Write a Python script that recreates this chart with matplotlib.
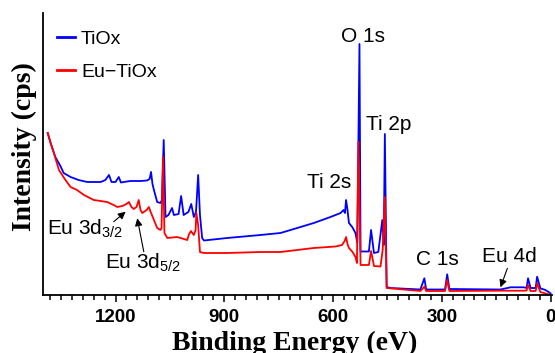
import matplotlib
matplotlib.use("Agg")
import matplotlib.pyplot as plt
from matplotlib.ticker import MultipleLocator

plt.rcParams['mathtext.fontset'] = 'custom'
plt.rcParams['mathtext.rm'] = 'Liberation Sans'
plt.rcParams['mathtext.it'] = 'Liberation Sans:italic'
plt.rcParams['mathtext.bf'] = 'Liberation Sans:bold'
plt.rcParams['mathtext.default'] = 'rm'

# Binding energy (eV) and intensity (arbitrary units, kcps)
energy_tiox = [1387, 1379, 1366, 1352, 1343, 1324, 1302, 1278, 1255, 1241, 1228, 1218, 1211,
               1200, 1191, 1185, 1177, 1159, 1131, 1113, 1106, 1102, 1098, 1094, 1085, 1076,
               1072, 1067, 1062, 1054, 1044, 1039, 1026, 1019, 1012, 999, 991, 984, 978, 972,
               967, 961, 956, 892, 800, 745, 717, 653, 607, 579, 571, 567, 564, 560, 556, 547,
               538, 533, 527, 524, 501, 495, 487, 475, 464, 460, 457, 452, 441, 359, 348, 343,
               291, 285, 279, 138, 110, 74, 66, 62, 55, 41, 37, 28, 14, 0]
intensity_tiox = [16.2, 15.2, 13.8, 12.9, 12.2, 11.8, 11.5, 11.3, 11.3, 11.3, 11.5, 12.0, 11.3,
                  11.3, 11.8, 11.25, 11.3, 11.4, 11.4, 11.45, 11.6, 12.3, 11.1, 10.5, 9.3, 9.2,
                  9.5, 15.5, 7.8, 8.0, 8.7, 8.0, 8.1, 9.9, 8.0, 8.3, 9.1, 7.8, 8.3, 12.0,
                  8.0, 5.7, 5.45, 5.7, 6.0, 6.2, 6.5, 7.2, 7.8, 8.2, 8.5, 8.2, 9.5, 8.5, 7.2, 6.8,
                  6.2, 5.2, 25.1, 4.35, 4.35, 6.5, 4.2, 4.3, 7.5, 5.0, 16.1, 0.8, 0.7, 0.55, 1.67, 0.55,
                  0.55, 2.07, 0.6, 0.55, 0.77, 0.77, 0.7, 1.67, 0.7, 0.7, 1.83, 0.67, 0.5, 0.17]

energy_eutiox = [1387, 1379, 1370, 1356, 1338, 1324, 1306, 1287, 1260, 1241, 1223, 1205, 1195,
                 1181, 1170, 1163, 1156, 1150, 1142, 1136, 1131, 1126, 1114, 1108, 1103, 1094,
                 1085, 1076, 1073, 1069, 1065, 1057, 1030, 1002, 998, 992, 984, 979, 977, 972,
                 967, 956, 892, 800, 745, 653, 593, 575, 568, 564, 560, 556, 546, 538, 534, 530,
                 524, 501, 495, 487, 469, 463, 457, 452, 359, 348, 343, 291, 285, 279, 138, 75,
                 66, 62, 55, 41, 37, 28, 0]
intensity_eutiox = [16.2, 15.2, 14.2, 12.5, 11.5, 10.8, 10.5, 10.0, 9.5, 9.4, 9.3, 9.0, 8.8,
                    8.9, 9.1, 9.3, 8.8, 8.6, 8.8, 9.5, 8.5, 8.2, 8.5, 8.8, 8.3, 7.5,
                    6.7, 6.5, 6.7, 13.8, 6.2, 5.7, 5.8, 5.5, 6.0, 6.4, 6.0, 6.5, 8.2, 7.0,
                    4.3, 4.2, 4.2, 4.3, 4.3, 4.7, 4.85, 5.0, 5.4, 5.8, 5.1, 4.7, 4.3, 3.8, 3.2, 15.3,
                    3.0, 3.0, 4.4, 2.9, 2.85, 4.5, 9.8, 0.7, 0.4, 0.83, 0.4, 0.4, 1.5, 0.4, 0.43, 0.43,
                    0.45, 1.0, 0.4, 0.4, 1.17, 0.3, 0.0]

series_labels = ['TiOx', 'Eu\u2212TiOx']
series_colors = ['#0000ff', '#ff0000']
x_ticks = [1200, 900, 600, 300, 0]

fig = plt.figure(figsize=(5.55, 3.53), dpi=100)
ax = fig.add_axes([43 / 555, 58 / 353, 508.6 / 555, 282 / 353])

ax.plot(energy_tiox, intensity_tiox, color=series_colors[0], lw=1.3, label=series_labels[0])
ax.plot(energy_eutiox, intensity_eutiox, color=series_colors[1], lw=1.3, label=series_labels[1])

ax.set_xlim(1400, -3)
ax.set_ylim(0, 28.2)
ax.set_yticks([])
ax.set_xticks(x_ticks)
ax.set_xticklabels([str(t) for t in x_ticks])
ax.xaxis.set_minor_locator(MultipleLocator(30))
for s in ['top', 'right']:
    ax.spines[s].set_visible(False)
for s in ['left', 'bottom']:
    ax.spines[s].set_linewidth(1.3)
ax.tick_params(axis='x', which='major', direction='out', length=5, width=1.1, pad=5)
ax.tick_params(axis='x', which='minor', direction='out', length=3.5, width=1.1)
for lab in ax.get_xticklabels():
    lab.set_fontfamily('Liberation Sans')
    lab.set_fontweight('bold')
    lab.set_fontsize(13.5)

ax.set_xlabel('Binding Energy (eV)', fontfamily='Liberation Serif', fontweight='bold', fontsize=20)
ax.set_ylabel('Intensity (cps)', fontfamily='Liberation Serif', fontweight='bold', fontsize=20)
ax.xaxis.set_label_coords(0.4955, -0.128)
ax.yaxis.set_label_coords(-0.012, 0.528)

leg = ax.legend(loc='upper left', bbox_to_anchor=(0.027, 0.94), frameon=False,
                prop={'family': 'Liberation Sans', 'size': 14}, handlelength=0.95,
                handletextpad=0.3, labelspacing=0.82, borderpad=0, borderaxespad=0)
for line in leg.get_lines():
    line.set_linewidth(2)

tkw = dict(fontfamily='Liberation Sans', fontsize=15, color='k')
ax.text(517, 25.33, 'O 1s', ha='center', va='baseline', **tkw)
ax.text(510, 16.5, 'Ti 2p', ha='left', va='baseline', **tkw)
ax.text(672, 10.67, 'Ti 2s', ha='left', va='baseline', **tkw)
ax.text(372, 3.0, 'C 1s', ha='left', va='baseline', **tkw)
ax.text(188, 3.33, 'Eu 4d', ha='left', va='baseline', **tkw)
ax.text(1388, 6.0, 'Eu 3d$_{3/2}$', ha='left', va='baseline', **tkw)
ax.text(1228, 2.67, 'Eu 3d$_{5/2}$', ha='left', va='baseline', **tkw)

apr = dict(arrowstyle='-|>', color='k', lw=0.8, mutation_scale=11, shrinkA=0, shrinkB=0)
ax.annotate('', xy=(1172, 8.33), xytext=(1205, 7.33), arrowprops=apr)
ax.annotate('', xy=(1140, 7.67), xytext=(1122, 4.33), arrowprops=apr)
ax.annotate('', xy=(138, 0.77), xytext=(119, 2.67), arrowprops=apr)

fig.savefig('out.png', dpi=100)
